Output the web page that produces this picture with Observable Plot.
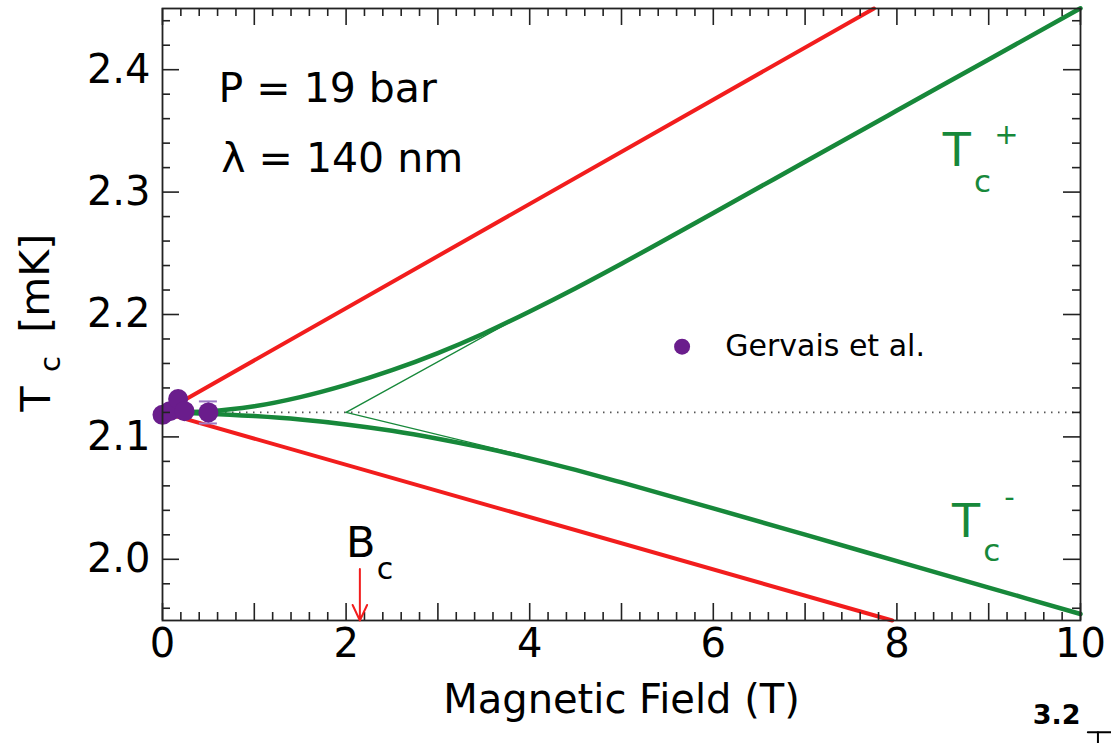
<!DOCTYPE html>
<html>
<head>
<meta charset="utf-8">
<script src="https://cdn.jsdelivr.net/npm/d3@7"></script>
<script src="https://cdn.jsdelivr.net/npm/@observablehq/plot@0.6"></script>
<style>
  html, body { margin: 0; padding: 0; background: #fff; }
  #chart svg { display: block; }
</style>
</head>
<body>
<div id="chart"></div>
<script>
// ---------- data ----------
const xTickLabels = [0, 2, 4, 6, 8, 10];
const yTickLabels = [2.0, 2.1, 2.2, 2.3, 2.4];

// red straight lines (B in T, Tc in mK)
const redUpperB = [0, 7.75];
const redUpperT = [2.12, 2.45];
const redLowerB = [0, 7.95];
const redLowerT = [2.12, 1.95];

// green Tc+ curve
const tcPlusB = [0, 0.5, 1.0, 1.5, 2.0, 2.5, 3.0, 3.5, 4.0, 4.5, 5.0, 6.0, 7.0, 8.0, 9.0, 10.0];
const tcPlusT = [2.12, 2.121, 2.125, 2.1325, 2.1425, 2.1545, 2.1685, 2.1845, 2.2025, 2.2215, 2.2415, 2.283, 2.3248, 2.3666, 2.4084, 2.4502];

// green Tc- curve
const tcMinusB = [0, 0.5, 1.0, 1.5, 2.0, 2.5, 3.0, 3.5, 4.0, 4.5, 5.0, 6.0, 7.0, 8.0, 9.0, 10.0];
const tcMinusT = [2.12, 2.119, 2.117, 2.1142, 2.1102, 2.105, 2.0985, 2.091, 2.0825, 2.073, 2.0628, 2.0416, 2.0201, 1.9985, 1.9769, 1.9553];

// thin green asymptote lines
const thinUpperB = [2.0, 3.85];
const thinUpperT = [2.12, 2.1965];
const thinLowerB = [2.0, 3.9];
const thinLowerT = [2.12, 2.0855];

// zero-field Tc reference (dotted)
const tc0 = [2.12];

// Gervais et al. points
const gervaisB = [0, 0.08, 0.17, 0.24, 0.5];
const gervaisT = [2.118, 2.121, 2.131, 2.121, 2.12];
const gervaisErr = [0, 0, 0, 0, 0.009];

// Bc arrow
const bc = [2.15];
const bcArrowT = [1.992, 1.95];

// ---------- build tables ----------
const rows = (bs, ts) => bs.map((b, i) => ({B: b, T: ts[i]}));
const redUpper = rows(redUpperB, redUpperT);
const redLower = rows(redLowerB, redLowerT);
const tcPlus = rows(tcPlusB, tcPlusT);
const tcMinus = rows(tcMinusB, tcMinusT);
const thinUpper = rows(thinUpperB, thinUpperT);
const thinLower = rows(thinLowerB, thinLowerT);
const gervais = gervaisB.map((b, i) => ({B: b, T: gervaisT[i], e: gervaisErr[i]}));
const gervaisErrRows = gervais.filter(d => d.e > 0);

const W = 1111, H = 743;
const mL = 162, mR = 31, mT = 8, mB = 123;
const plotW = W - mL - mR, plotH = H - mT - mB;

const xMajor = d3.range(0, 10.001, 1);
const xMinor = d3.range(0, 10.001, 0.2).filter(v => Math.abs(v - Math.round(v)) > 1e-6);
const yMajor = d3.range(2.0, 2.4501, 0.1);
const yMinor = d3.range(1.96, 2.4501, 0.02).filter(v => Math.abs(v * 10 - Math.round(v * 10)) > 1e-6);

const LONG = 17, SHORT = 8;
const tickColor = "#222";
const red = "#f21d1d";
const green = "#17883a";
const purple = "#6a1d8c";
const font = "DejaVu Sans";

const chart = Plot.plot({
  width: W,
  height: H,
  marginLeft: mL, marginRight: mR, marginTop: mT, marginBottom: mB,
  x: {domain: [0, 10], axis: null},
  y: {domain: [1.95, 2.45], axis: null},
  style: {fontFamily: font, background: "#fff", color: "#000"},
  marks: [
    // dotted zero-field line
    Plot.ruleY(tc0, {y: d => d, stroke: "#555", strokeWidth: 1.8, strokeDasharray: "1.5,5.5"}),
    // red lines
    Plot.line(redUpper, {x: "B", y: "T", stroke: red, strokeWidth: 4}),
    Plot.line(redLower, {x: "B", y: "T", stroke: red, strokeWidth: 4}),
    // thin green
    Plot.line(thinUpper, {x: "B", y: "T", stroke: green, strokeWidth: 1.4}),
    Plot.line(thinLower, {x: "B", y: "T", stroke: green, strokeWidth: 1.4}),
    // green curves
    Plot.line(tcPlus, {x: "B", y: "T", stroke: green, strokeWidth: 4.5, curve: "monotone-x"}),
    Plot.line(tcMinus, {x: "B", y: "T", stroke: green, strokeWidth: 4.5, curve: "monotone-x"}),
    // error bar
    Plot.ruleX(gervaisErrRows, {x: "B", y1: d => d.T - d.e, y2: d => d.T + d.e, stroke: "#9d78c4", strokeWidth: 2}),
    Plot.ruleY(gervaisErrRows, {y: d => d.T - d.e, x1: "B", x2: "B", insetLeft: -9, insetRight: -9, stroke: "#9d78c4", strokeWidth: 2}),
    Plot.ruleY(gervaisErrRows, {y: d => d.T + d.e, x1: "B", x2: "B", insetLeft: -9, insetRight: -9, stroke: "#9d78c4", strokeWidth: 2}),
    // data points
    Plot.dot(gervais, {x: "B", y: "T", r: 10, fill: purple, stroke: "none"}),
    // ticks (inward, all four sides)
    Plot.ruleX(xMajor, {x: d => d, insetTop: plotH - LONG, stroke: tickColor, strokeWidth: 1.6}),
    Plot.ruleX(xMinor, {x: d => d, insetTop: plotH - SHORT, stroke: tickColor, strokeWidth: 1.6}),
    Plot.ruleX(xMajor, {x: d => d, insetBottom: plotH - LONG, stroke: tickColor, strokeWidth: 1.6}),
    Plot.ruleX(xMinor, {x: d => d, insetBottom: plotH - SHORT, stroke: tickColor, strokeWidth: 1.6}),
    Plot.ruleY(yMajor, {y: d => d, insetRight: plotW - LONG, stroke: tickColor, strokeWidth: 1.6}),
    Plot.ruleY(yMinor, {y: d => d, insetRight: plotW - SHORT, stroke: tickColor, strokeWidth: 1.6}),
    Plot.ruleY(yMajor, {y: d => d, insetLeft: plotW - LONG, stroke: tickColor, strokeWidth: 1.6}),
    Plot.ruleY(yMinor, {y: d => d, insetLeft: plotW - SHORT, stroke: tickColor, strokeWidth: 1.6}),
    Plot.frame({stroke: tickColor, strokeWidth: 1.8}),
    // tick labels
    Plot.text(xTickLabels, {x: d => d, frameAnchor: "bottom", dy: 36, text: d => String(d), fontSize: 40, fill: "#000"}),
    Plot.text(yTickLabels, {y: d => d, frameAnchor: "left", dx: -12, textAnchor: "end", text: d => d.toFixed(1), fontSize: 40, fill: "#000"}),
    // axis titles
    Plot.text(["Magnetic Field (T)"], {x: 5, frameAnchor: "bottom", dy: 92, textAnchor: "middle", text: d => d, fontSize: 40, fill: "#000"}),
    Plot.text(["T"], {y: 2.131, frameAnchor: "left", textAnchor: "middle", dx: -126, rotate: -90, text: d => d, fontSize: 41, fill: "#000"}),
    Plot.text(["c"], {y: 2.1595, frameAnchor: "left", textAnchor: "middle", dx: -112, rotate: -90, text: d => d, fontSize: 29, fill: "#000"}),
    Plot.text(["[mK]"], {y: 2.2255, frameAnchor: "left", textAnchor: "middle", dx: -127, rotate: -90, text: d => d, fontSize: 41, fill: "#000"}),
    // annotations
    Plot.text(["P = 19 bar"], {x: 0.61, y: 2.384, text: d => d, textAnchor: "start", fontSize: 41, fill: "#000"}),
    Plot.text(["λ = 140 nm"], {x: 0.64, y: 2.327, text: d => d, textAnchor: "start", fontSize: 41, fill: "#000"}),
    Plot.dot([0], {x: 5.66, y: 2.1737, r: 8, fill: purple}),
    Plot.text(["Gervais et al."], {x: 6.13, y: 2.1737, text: d => d, textAnchor: "start", fontSize: 30, fill: "#000"}),
    // Tc+ label
    Plot.text(["T"], {x: 8.5, y: 2.333, text: d => d, textAnchor: "start", fontSize: 46, fill: green}),
    Plot.text(["c"], {x: 8.84, y: 2.3085, text: d => d, textAnchor: "start", fontSize: 31, fill: green}),
    Plot.text(["+"], {x: 9.06, y: 2.347, text: d => d, textAnchor: "start", fontSize: 29, fill: green}),
    // Tc- label
    Plot.text(["T"], {x: 8.6, y: 2.030, text: d => d, textAnchor: "start", fontSize: 46, fill: green}),
    Plot.text(["c"], {x: 8.94, y: 2.0065, text: d => d, textAnchor: "start", fontSize: 31, fill: green}),
    Plot.text(["-"], {x: 9.17, y: 2.050, text: d => d, textAnchor: "start", fontSize: 29, fill: green}),
    // Bc arrow and label
    Plot.arrow(bc, {x1: d => d, x2: d => d, y1: bcArrowT[0], y2: bcArrowT[1], stroke: red, strokeWidth: 2, headLength: 18, headAngle: 50}),
    Plot.text(["B"], {x: 2.0, y: 2.013, text: d => d, textAnchor: "start", fontSize: 43, fill: "#000"}),
    Plot.text(["c"], {x: 2.335, y: 1.992, text: d => d, textAnchor: "start", fontSize: 30, fill: "#000"}),
    // fragment of neighbouring panel
    Plot.text(["3.2"], {x: 9.74, y: 1.8724, text: d => d, fontSize: 27, fontWeight: "bold", fill: "#000"}),
    Plot.line([{B: 10.08, T: 1.8588}, {B: 10.19, T: 1.8588}, {B: 10.19, T: 1.8465}], {x: "B", y: "T", stroke: "#000", strokeWidth: 2}),
    Plot.line([{B: 10.19, T: 1.8588}, {B: 10.34, T: 1.8588}], {x: "B", y: "T", stroke: "#000", strokeWidth: 2})
  ]
});
document.getElementById("chart").appendChild(chart);
</script>
</body>
</html>
